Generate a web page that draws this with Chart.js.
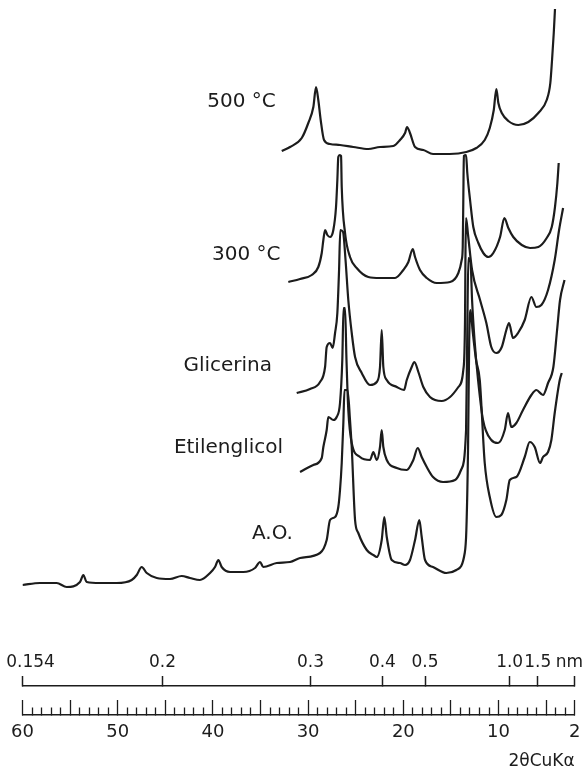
<!DOCTYPE html>
<html>
<head>
<meta charset="utf-8">
<script src="https://cdn.jsdelivr.net/npm/chart.js@4.4.1/dist/chart.umd.min.js"></script>
<style>
  body { margin: 0; background: #fff; }
  canvas { display: block; }
</style>
</head>
<body>
<canvas id="myChart" width="586" height="772"></canvas>
<script>
const t500 = [32.77, 31.90, 30.67, 29.98, 29.45, 29.17, 28.93, 28.68, 28.33, 27.70, 26.65, 25.25, 23.68, 22.45, 21.05, 20.35, 19.82, 19.61, 19.30, 18.77, 17.90, 16.88, 15.13, 13.38, 12.33, 11.45, 10.92, 10.50, 10.23, 10.02, 9.66, 8.97, 7.92, 6.87, 5.82, 4.94, 4.56, 4.38, 4.20, 4.07];
const i500 = [535, 539, 548, 563, 579, 599, 586, 566, 546, 542, 541, 539, 537, 539, 540, 546, 553, 559, 553, 539, 536, 532, 532, 534, 538, 546, 558, 576, 597, 583, 573, 565, 561, 564, 573, 586, 603, 626, 653, 677];

const t300 = [32.08, 30.85, 29.62, 28.93, 28.57, 28.40, 28.22, 27.98, 27.70, 27.35, 27.07, 26.93, 26.83, 26.68, 26.54, 26.47, 26.12, 25.60, 24.90, 23.68, 22.45, 20.87, 20.00, 19.47, 19.01, 18.77, 18.25, 17.54, 16.49, 15.09, 14.22, 13.87, 13.76, 13.70, 13.64, 13.41, 13.28, 12.99, 12.65, 12.12, 11.60, 11.07, 10.55, 9.84, 9.39, 8.97, 8.45, 7.56, 6.69, 5.82, 4.94, 4.41, 4.07, 3.82, 3.68];
const i300 = [404, 407, 411, 419, 433, 446, 456, 451, 449, 456, 479, 506, 529, 531, 530, 499, 453, 429, 418, 409, 408, 408, 416, 424, 437, 429, 416, 408, 403, 404, 413, 426, 439, 486, 530, 531, 513, 486, 459, 443, 433, 429, 433, 449, 468, 458, 449, 441, 438, 439, 448, 459, 479, 503, 523];

const tGli = [31.20, 29.80, 28.75, 28.22, 28.05, 27.70, 27.42, 27.17, 26.93, 26.75, 26.62, 26.33, 26.07, 25.78, 25.42, 25.07, 24.37, 23.50, 22.79, 22.45, 22.27, 22.10, 21.74, 20.69, 19.93, 19.64, 19.12, 18.84, 18.42, 17.90, 17.20, 15.97, 15.09, 14.22, 13.70, 13.52, 13.47, 13.41, 13.20, 12.78, 11.94, 11.28, 10.76, 10.23, 9.66, 9.18, 8.90, 8.48, 7.95, 7.25, 6.55, 6.03, 5.50, 4.80, 4.10, 3.64, 3.22];
const iGli = [293, 297, 304, 319, 339, 343, 338, 353, 373, 416, 456, 454, 426, 386, 353, 329, 313, 301, 304, 319, 356, 319, 306, 299, 296, 306, 319, 324, 314, 299, 289, 285, 289, 299, 316, 366, 436, 468, 451, 416, 386, 363, 339, 333, 339, 356, 363, 348, 353, 366, 389, 379, 381, 396, 426, 456, 478];

const tEti = [30.85, 29.45, 28.57, 28.40, 28.05, 27.88, 27.35, 27.00, 26.65, 26.41, 26.28, 26.12, 25.97, 25.78, 25.42, 24.55, 23.50, 23.15, 22.79, 22.45, 22.27, 22.10, 21.74, 20.69, 19.64, 18.95, 18.49, 18.07, 17.54, 16.88, 15.83, 14.57, 13.94, 13.41, 13.28, 13.17, 12.94, 12.78, 12.52, 12.15, 11.63, 10.76, 10.05, 9.35, 9.00, 8.66, 8.13, 7.43, 6.55, 6.03, 5.33, 4.80, 4.24, 3.85, 3.54, 3.07];
const iEti = [214, 221, 228, 239, 256, 269, 266, 269, 283, 326, 378, 378, 326, 276, 243, 229, 226, 234, 226, 239, 256, 239, 226, 218, 216, 226, 238, 229, 219, 209, 204, 206, 216, 256, 356, 428, 424, 386, 346, 306, 266, 246, 243, 256, 273, 259, 263, 276, 291, 296, 291, 303, 319, 356, 386, 406];

const tAO = [60.0, 58.16, 56.41, 55.36, 53.96, 53.61, 53.26, 51.86, 50.11, 48.53, 48.00, 47.48, 46.95, 45.90, 44.51, 43.28, 42.41, 41.36, 40.30, 39.78, 39.43, 39.08, 38.20, 36.81, 35.58, 35.05, 34.71, 33.30, 31.90, 30.85, 28.75, 28.05, 27.70, 27.17, 26.83, 26.65, 26.47, 26.30, 26.18, 25.86, 25.60, 25.42, 25.07, 24.73, 23.84, 23.15, 22.79, 22.27, 22.00, 21.74, 21.22, 20.35, 19.82, 19.30, 18.77, 18.32, 18.07, 17.72, 16.88, 15.48, 14.43, 13.55, 13.38, 13.20, 13.08, 12.94, 12.73, 12.36, 11.97, 11.45, 10.92, 10.23, 9.71, 9.18, 8.82, 8.13, 7.25, 6.72, 6.20, 5.64, 5.33, 4.80, 4.45, 4.10, 3.57, 3.36];
const iAO = [101, 103, 103, 99, 104, 111, 104, 103, 103, 106, 111, 119, 113, 108, 107, 110, 108, 106, 113, 119, 126, 119, 114, 114, 118, 124, 119, 123, 124, 128, 133, 146, 166, 169, 179, 196, 223, 263, 296, 296, 266, 239, 166, 153, 136, 131, 129, 146, 169, 149, 126, 123, 121, 126, 146, 166, 149, 126, 119, 113, 116, 133, 156, 239, 346, 376, 356, 326, 306, 223, 189, 169, 171, 186, 206, 209, 229, 244, 239, 223, 229, 234, 246, 273, 306, 313];

// nombres de las curvas y donde van escritos (2θ, intensidad)
const nombres = ['500 °C', '300 °C', 'Glicerina', 'Etilenglicol', 'A.O.'];
const nombre2t = [40.6, 40.1, 43.1, 44.1, 35.9];
const nombreI = [584, 431, 320, 238, 152];

// escalas: 2θ CuKα abajo y espaciado d (nm) arriba
const etiquetas2t = [60, 50, 40, 30, 20, 10, 2];
const espaciadoD = [0.154, 0.2, 0.3, 0.4, 0.5, 1.0, 1.5];
const etiquetasD = ['   0.154', '0.2', '0.3', '0.4', '0.5', '1.0', '1.5', 'nm  '];
const lambdaCu = 0.154;

function serie(t, i) {
    return t.map(function (v, k) { return {x: v, y: i[k]}; });
}

function dA2theta(d) {
    return Math.min(60, 2 * Math.asin(lambdaCu / (2 * d)) * 180 / Math.PI);
}

const tinta = '#1c1c1c';

const nombresPlugin = {
    id: 'nombres',
    afterDatasetsDraw(chart) {
        const ctx = chart.ctx;
        const xs = chart.scales.x;
        const ys = chart.scales.y;
        ctx.save();
        ctx.font = '20px "DejaVu Sans"';
        ctx.fillStyle = tinta;
        ctx.textAlign = 'left';
        ctx.textBaseline = 'middle';
        nombres.forEach(function (n, k) {
            ctx.fillText(n, xs.getPixelForValue(nombre2t[k]), ys.getPixelForValue(nombreI[k]));
        });
        ctx.restore();
    }
};

function linea(label, t, i) {
    return {
        label: label,
        data: serie(t, i),
        borderColor: tinta,
        borderWidth: 2.2,
        pointRadius: 0,
        fill: false,
        cubicInterpolationMode: 'monotone'
    };
}

const ctx = document.getElementById('myChart').getContext('2d');
const myChart = new Chart(ctx, {
    type: 'line',
    data: {
        datasets: [
            linea('500 °C', t500, i500),
            linea('300 °C', t300, i300),
            linea('Glicerina', tGli, iGli),
            linea('Etilenglicol', tEti, iEti),
            linea('A.O.', tAO, iAO)
        ]
    },
    options: {
        responsive: false,
        animation: false,
        devicePixelRatio: 1,
        layout: {padding: {left: 22.5, right: 11.3, top: 0, bottom: 0}},
        plugins: {
            legend: {display: false},
            tooltip: {enabled: false},
            title: {
                display: true,
                text: '2θCuKα',
                position: 'bottom',
                align: 'end',
                color: tinta,
                font: {family: 'DejaVu Sans', size: 17, weight: 'normal'},
                padding: 0
            }
        },
        scales: {
            y: {
                type: 'linear',
                display: false,
                min: 0,
                max: 686
            },
            d: {
                type: 'linear',
                position: 'bottom',
                weight: 1,
                reverse: true,
                min: 2,
                max: 60,
                afterBuildTicks: function (scale) {
                    scale.ticks = espaciadoD.map(function (d) { return {value: dA2theta(d)}; });
                    scale.ticks.push({value: 2});
                },
                afterFit: function (scale) {
                    scale.height = 29;
                    scale.paddingLeft = 0;
                    scale.paddingRight = 0;
                },
                border: {display: true, color: tinta, width: 1.5},
                grid: {drawOnChartArea: false, drawTicks: true, tickLength: -10, tickColor: tinta, tickWidth: 1.5},
                ticks: {
                    autoSkip: false,
                    maxRotation: 0,
                    mirror: true,
                    padding: 12.8,
                    color: tinta,
                    font: {family: 'DejaVu Sans', size: 17},
                    callback: function (value, index) { return etiquetasD[index]; }
                }
            },
            x: {
                type: 'linear',
                position: 'bottom',
                weight: 2,
                reverse: true,
                min: 2,
                max: 60,
                afterBuildTicks: function (scale) {
                    const marcas = [];
                    for (let v = 2; v <= 60; v++) marcas.push({value: v});
                    scale.ticks = marcas;
                },
                afterFit: function (scale) {
                    scale.height = 36.6;
                    scale.paddingLeft = 0;
                    scale.paddingRight = 0;
                },
                border: {display: true, color: tinta, width: 1.5},
                grid: {
                    drawOnChartArea: false,
                    drawTicks: true,
                    tickLength: -15,
                    tickColor: tinta,
                    tickWidth: 1.3,
                    tickBorderDash: function (c) {
                        const v = c.tick ? c.tick.value : 0;
                        return (v % 5 === 0 || v === 2) ? [] : [8, 40];
                    }
                },
                ticks: {
                    autoSkip: false,
                    maxRotation: 0,
                    padding: 21.2,
                    color: tinta,
                    font: {family: 'DejaVu Sans', size: 18},
                    callback: function (value) {
                        return etiquetas2t.indexOf(value) >= 0 ? String(value) : '';
                    }
                }
            }
        }
    },
    plugins: [nombresPlugin]
});
</script>
</body>
</html>
